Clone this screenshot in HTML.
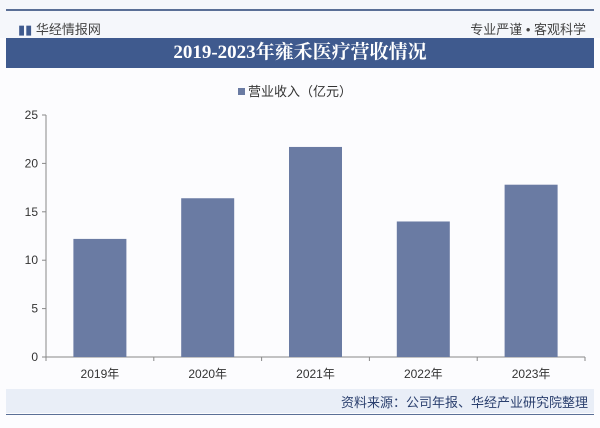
<!DOCTYPE html>
<html><head><meta charset="utf-8"><style>
body{margin:0;background:#fff;}
#wrap{position:relative;width:600px;height:428px;background:#fcfcfe;overflow:hidden;font-family:"Liberation Sans","Noto Sans CJK SC",sans-serif;}
.t{position:absolute;white-space:nowrap;}
</style></head><body>
<div id="wrap">
<div class="t" style="left:0;top:0;width:600px;height:38px;background:#f5f7fb"></div>
<div class="t" style="left:6px;top:9px;width:588px;height:2px;background:#5a6f96"></div>
<div class="t" style="left:18px;top:19px;font-size:13px;color:#3f5a8e">▮▮ <span style="color:#444">华经情报网</span></div>
<div class="t" style="right:14px;top:19px;font-size:13px;color:#444">专业严谨 • 客观科学</div>
<div class="t" style="left:6px;top:38px;width:588px;height:30px;background:#3f5a8e;color:#fff;font-family:'Liberation Serif','Noto Serif CJK SC',serif;font-weight:bold;font-size:19px;text-align:center;line-height:30px">2019-2023年雍禾医疗营收情况</div>
<svg id="c" width="600" height="428" style="position:absolute;left:0;top:0"></svg>
<div class="t" style="left:6px;top:389px;width:588px;height:24px;background:#e9eef7"></div>
<div class="t" style="right:12px;top:392px;font-size:13px;color:#2a3f6e">资料来源：公司年报、华经产业研究院整理</div>
<div class="t" style="left:6px;top:414px;width:588px;height:1px;background:#5a6f96"></div>
</div>
<script>
const categories=["2019年","2020年","2021年","2022年","2023年"];
const values=[12.2,16.4,21.7,14.0,17.8];
const yTicks=[0,5,10,15,20,25];
const svg=document.getElementById('c');const NS='http://www.w3.org/2000/svg';
const x0=46,x1=585,y0=357,y1=115,yMax=25;
const cw=(x1-x0)/categories.length;
const ys=v=>y0-(v/yMax)*(y0-y1);
function mk(t,a){const e=document.createElementNS(NS,t);for(const k in a)e.setAttribute(k,a[k]);svg.appendChild(e);return e;}
const leg=mk('rect',{x:238,y:88,width:7,height:7,fill:'#6a7ba3'});


const lt=mk('text',{x:248,y:96,'font-size':13,fill:'#333'});lt.textContent='营业收入（亿元）';


const ax=mk('line',{x1:x0,y1:y1,x2:x0,y2:y0,stroke:'#888'});


const bx=mk('line',{x1:x0,y1:y0,x2:x1,y2:y0,stroke:'#888'});


yTicks.forEach(v=>{const y=ys(v);mk('line',{x1:x0-4,y1:y,x2:x0,y2:y,stroke:'#888'});
const t=mk('text',{x:x0-8,y:y+4,'font-size':12,fill:'#333','text-anchor':'end'});t.textContent=v;

});
for(let i=0;i<=categories.length;i++){const x=x0+i*cw;mk('line',{x1:x,y1:y0,x2:x,y2:y0+4,stroke:'#888'});}
categories.forEach((c,i)=>{const cx=x0+cw*(i+0.5),bw=53;
const r=mk('rect',{x:cx-bw/2,y:ys(values[i]),width:bw,height:y0-ys(values[i]),fill:'#6a7ba3'});


const t=mk('text',{x:cx,y:378,'font-size':12,fill:'#333','text-anchor':'middle'});t.textContent=c;

});
</script>
</body></html>
